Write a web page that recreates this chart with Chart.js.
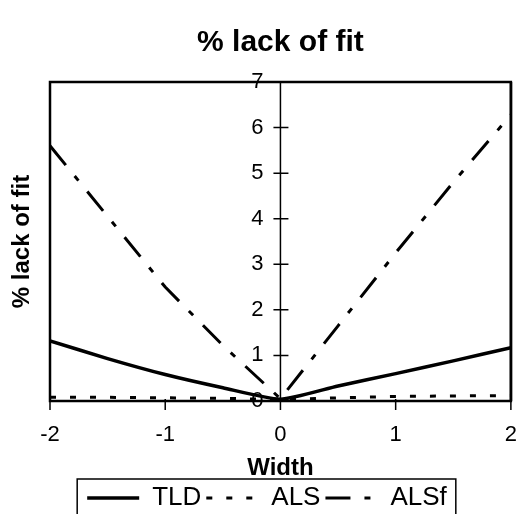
<!DOCTYPE html>
<html><head><meta charset="utf-8">
<script src="https://cdn.jsdelivr.net/npm/chart.js@4.4.1/dist/chart.umd.min.js"></script>
<style>html,body{margin:0;padding:0;background:#fff;overflow:hidden}#wrap{width:530px;height:514px}canvas{display:block}</style>
</head><body><div id="wrap"><canvas id="c" width="530" height="514"></canvas></div>
<script>
const widths = [-2, -1.5, -1, -0.5, 0, 0.5, 1, 1.5, 2];
const tld  = [1.32, 0.93, 0.58, 0.29, 0.04, 0.33, 0.60, 0.88, 1.17];
const als  = [0.08, 0.08, 0.07, 0.06, 0.03, 0.07, 0.10, 0.11, 0.12];
const alsf = [5.60, 4.05, 2.50, 1.22, 0.05, 1.65, 3.25, 4.80, 6.28];
const seriesNames = ['TLD', 'ALS', 'ALSf'];
const xTicks = [-2, -1, 0, 1, 2];
const yTicks = [0, 1, 2, 3, 4, 5, 6, 7];
const titleText = '% lack of fit';
const xTitle = 'Width';
const yTitle = '% lack of fit';

const FONT = "'Liberation Sans', Arial, sans-serif";
const pts = arr => widths.map((w, i) => ({x: w, y: arr[i]}));

const deco = {
  id: 'deco',
  beforeDraw(chart) {
    // put the centred y-axis labels to the left of the axis line
    const yc = chart.scales.yc;
    const items = yc.getLabelItems(chart.chartArea);
    if (!items._shifted) {
      items.forEach(it => { it.options.translation[0] -= 17; });
      items._shifted = true;
    }
  },
  beforeDatasetsDraw(chart) {
    const {ctx, scales: {x, yc}} = chart;
    const L = x.getPixelForValue(x.min), R = x.getPixelForValue(x.max);
    const T = yc.getPixelForValue(yc.max), B = yc.getPixelForValue(yc.min);
    ctx.save();
    ctx.strokeStyle = '#000';
    ctx.lineWidth = 2.5;
    ctx.strokeRect(L, T, R - L, B - T);
    const x0 = x.getPixelForValue(0);
    ctx.lineWidth = 1.5;
    ctx.beginPath();
    ctx.moveTo(x0, T); ctx.lineTo(x0, B);
    yc.ticks.forEach(t => {
      const py = yc.getPixelForValue(t.value);
      ctx.moveTo(x0 - 7, py); ctx.lineTo(x0 + 8, py);
    });
    x.ticks.forEach(t => {
      const px = x.getPixelForValue(t.value);
      ctx.moveTo(px, B - 2); ctx.lineTo(px, B + 9);
    });
    ctx.stroke();
    ctx.restore();
  },
  afterDraw(chart) {
    const {ctx, scales: {x, yc}} = chart;
    // right-hand edge of the plot box, drawn again on top
    const R = Math.round(x.getPixelForValue(x.max));
    const T = yc.getPixelForValue(yc.max), B = yc.getPixelForValue(yc.min);
    ctx.save();
    ctx.strokeStyle = '#000';
    ctx.lineWidth = 2.5;
    ctx.beginPath();
    ctx.moveTo(R, T); ctx.lineTo(R, B);
    ctx.stroke();
    ctx.restore();

    const boxes = chart.legend.legendHitBoxes;
    if (!boxes || !boxes.length) return;
    const l = boxes[0].left - 10;
    const last = boxes[boxes.length - 1];
    const r = last.left + last.width + 9;
    const t = boxes[0].top - 6;
    ctx.save();
    ctx.strokeStyle = '#000';
    ctx.lineWidth = 1.5;
    ctx.strokeRect(l, t, r - l, chart.height + 5 - t);
    ctx.restore();
  }
};

new Chart(document.getElementById('c'), {
  type: 'line',
  data: {
    datasets: [
      {label: seriesNames[0], data: pts(tld), borderColor: '#000', backgroundColor: '#000', borderWidth: 3.5, pointRadius: 0, tension: 0.2},
      {label: seriesNames[1], data: pts(als), borderColor: '#000', backgroundColor: '#000', borderWidth: 3, borderDash: [6, 14], pointRadius: 0},
      {label: seriesNames[2], data: pts(alsf), borderColor: '#000', backgroundColor: '#000', borderWidth: 3, borderDash: [25, 14, 6, 14], pointRadius: 0}
    ]
  },
  options: {
    responsive: false, animation: false, devicePixelRatio: 1,
    layout: {autoPadding: false, padding: {top: 0, right: 13, left: 17, bottom: -7}},
    plugins: {
      tooltip: {enabled: false},
      title: {display: false},
      legend: {
        position: 'bottom',
        labels: {
          usePointStyle: true, pointStyleWidth: 52, color: '#000', padding: 5,
          font: {family: FONT, size: 26},
          generateLabels: chart => chart.data.datasets.map((d, i) => ({
            text: d.label, fillStyle: '#000', strokeStyle: '#000', fontColor: '#000',
            lineWidth: d.borderWidth, lineDash: d.borderDash || [], lineCap: 'butt',
            pointStyle: 'line', hidden: false, datasetIndex: i
          }))
        }
      }
    },
    scales: {
      xt: {
        type: 'linear', min: -2, max: 2, position: 'top',
        afterFit: s => { s.height = 82; },
        ticks: {display: false},
        grid: {display: false},
        border: {display: false},
        title: {display: true, text: titleText, color: '#000', font: {family: FONT, size: 30, weight: 'bold', lineHeight: 1.2}, padding: {top: 25, bottom: 0}}
      },
      x: {
        type: 'linear', min: -2, max: 2, position: 'bottom',
        afterBuildTicks: s => { s.ticks = xTicks.map(v => ({value: v})); },
        afterFit: s => { s.height = 79; },
        ticks: {color: '#000', padding: 13, font: {family: FONT, size: 22}},
        grid: {display: false},
        border: {display: false},
        title: {display: true, text: xTitle, color: '#000', font: {family: FONT, size: 24, weight: 'bold', lineHeight: 0.8}, padding: {top: 0, bottom: 2}}
      },
      y: {
        type: 'linear', min: 0, max: 7, position: 'left',
        afterFit: s => { s.width = 33; },
        ticks: {display: false},
        grid: {display: false},
        border: {display: false},
        title: {display: true, text: yTitle, color: '#000', font: {family: FONT, size: 24, weight: 'bold', lineHeight: 1}, padding: {top: -7, bottom: 0}}
      },
      yc: {
        type: 'linear', min: 0, max: 7, position: {x: 0},
        afterBuildTicks: s => { s.ticks = yTicks.map(v => ({value: v})); },
        ticks: {color: '#000', padding: 0, font: {family: FONT, size: 22}},
        grid: {display: false},
        border: {display: false}
      }
    }
  },
  plugins: [deco]
});
</script></body></html>
